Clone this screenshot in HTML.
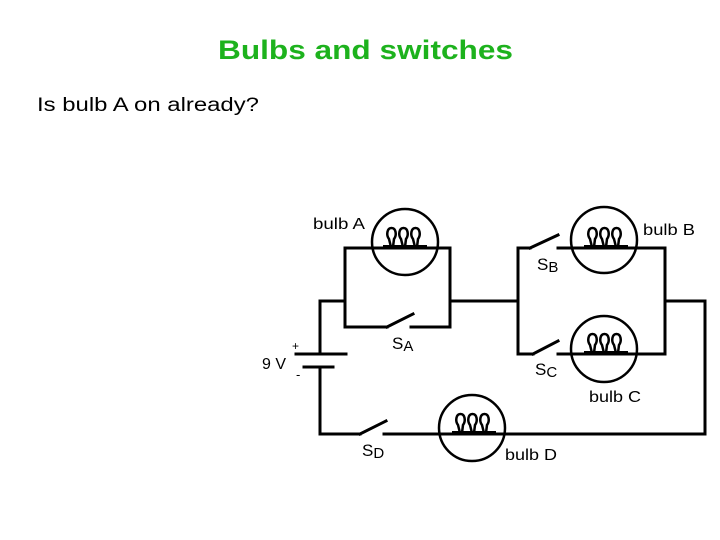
<!DOCTYPE html>
<html><head><meta charset="utf-8"><style>
html,body{margin:0;padding:0;background:#fff;width:720px;height:540px;overflow:hidden}
svg{display:block}
text{font-family:"Liberation Sans",sans-serif}
</style></head><body>
<svg width="720" height="540" viewBox="0 0 720 540" xmlns="http://www.w3.org/2000/svg">
<text x="218" y="59" font-size="27" font-weight="bold" fill="#1db21d" textLength="295" lengthAdjust="spacingAndGlyphs">Bulbs and switches</text>
<text x="37" y="111" font-size="19" fill="#000" textLength="222" lengthAdjust="spacingAndGlyphs">Is bulb A on already?</text>
<g stroke="#000" stroke-width="3" fill="none" stroke-linecap="square">
<polyline points="387,327 345,327 345,248 450,248 450,327 411,327"/>
<line x1="387" y1="327" x2="413" y2="314"/>
<line x1="450" y1="301" x2="518" y2="301"/>
<polyline points="530,248 518,248 518,354 533,354"/>
<line x1="530" y1="248" x2="558" y2="235"/>
<line x1="533" y1="354" x2="558" y2="341"/>
<polyline points="558,248 665,248 665,354 558,354"/>
<polyline points="665,301 705,301 705,434 384,434"/>
<line x1="360" y1="434" x2="386" y2="421"/>
<polyline points="360,434 320,434 320,367"/>
<polyline points="320,354 320,301 345,301"/>
<line x1="296" y1="354" x2="346" y2="354"/>
<line x1="304" y1="367" x2="333" y2="367"/>
</g>
<g stroke="#000" stroke-width="2.5" fill="none">
<circle cx="405" cy="242" r="33"/>
<circle cx="604" cy="240" r="33"/>
<circle cx="604" cy="349" r="33"/>
<circle cx="472" cy="428" r="33"/>
</g>
<defs>
<g id="fil" stroke="#000" stroke-width="2.5" fill="none">
<line x1="-22" y1="0" x2="22" y2="0" stroke-width="4"/>
<path id="lp" d="M-14,0 L-16,-8 C-19,-12 -18,-19 -13.5,-19 C-9,-19 -8,-12 -11,-8 L-12,0"/>
<use href="#lp" x="12"/>
<use href="#lp" x="24"/>
</g>
</defs>
<use href="#fil" x="405" y="247"/>
<use href="#fil" x="606" y="247"/>
<use href="#fil" x="606" y="353"/>
<use href="#fil" x="474" y="433"/>
<g font-size="16" fill="#000">
<text x="313" y="229" textLength="52" lengthAdjust="spacingAndGlyphs">bulb A</text>
<text x="643" y="235" textLength="52" lengthAdjust="spacingAndGlyphs">bulb B</text>
<text x="589" y="402" textLength="52" lengthAdjust="spacingAndGlyphs">bulb C</text>
<text x="505" y="460" textLength="52" lengthAdjust="spacingAndGlyphs">bulb D</text>
<text x="262" y="369" textLength="24" lengthAdjust="spacingAndGlyphs">9 V</text>
<text x="292" y="350" font-size="12">+</text>
<text x="296" y="379" font-size="13">-</text>
<text x="392" y="349" font-size="17">S<tspan font-size="15" dy="2">A</tspan></text>
<text x="537" y="270" font-size="17">S<tspan font-size="15" dy="2">B</tspan></text>
<text x="535" y="375" font-size="17">S<tspan font-size="15" dy="2">C</tspan></text>
<text x="362" y="456" font-size="17">S<tspan font-size="15" dy="2">D</tspan></text>
</g>
</svg>
</body></html>
